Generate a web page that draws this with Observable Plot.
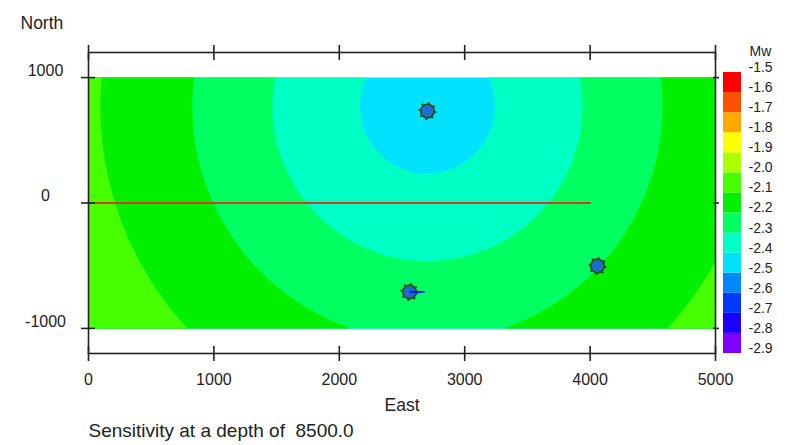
<!DOCTYPE html>
<html>
<head>
<meta charset="utf-8">
<script src="https://cdn.jsdelivr.net/npm/d3@7"></script>
<script src="https://cdn.jsdelivr.net/npm/@observablehq/plot@0.6"></script>
<style>
  html, body { margin: 0; padding: 0; background: #fff; }
  #wrap { position: relative; width: 790px; height: 445px; font-family: "Liberation Sans", Arial, sans-serif; }
  #wrap svg { position: absolute; top: 0; overflow: visible; }
</style>
</head>
<body>
<div id="wrap"></div>
<script>
// ---- data ----
const xTicks = [0, 1000, 2000, 3000, 4000, 5000];
const yTicks = [-1000, 0, 1000];
const mapExtentX = [0, 5000];
const mapExtentY = [-1000, 1000];

// sensitivity field: concentric contours around this point (metres)
const fieldCenterX = 2703;
const fieldCenterY = 773;
const contourRadius = [0, 537, 1236, 1874, 2608, 3400];
const contourValue  = [-2.46, -2.4, -2.3, -2.2, -2.1, -2.0];
const contourThresholds = [-2.5, -2.4, -2.3, -2.2, -2.1, -2.0];

// stations
const stationX = [2703, 2560, 4059];
const stationY = [733, -709, -502];

// short vector at station 2
const vecX1 = [2560], vecX2 = [2680], vecY = [-709];

// red profile line
const lineX = [0, 4000];
const lineY = [0, 0];

// legend (Mw)
const legendTicks = [-1.5, -1.6, -1.7, -1.8, -1.9, -2.0, -2.1, -2.2, -2.3, -2.4, -2.5, -2.6, -2.7, -2.8, -2.9];
const bandLower = [-2.9, -2.8, -2.7, -2.6, -2.5, -2.4, -2.3, -2.2, -2.1, -2.0, -1.9, -1.8, -1.7, -1.6];
const bandUpper = [-2.8, -2.7, -2.6, -2.5, -2.4, -2.3, -2.2, -2.1, -2.0, -1.9, -1.8, -1.7, -1.6, -1.5];
const bandColors = ["#8000ff", "#1a00ff", "#0038ff", "#0088ff", "#00e2ff", "#00ffc4", "#00ff60",
                    "#00f000", "#46ff00", "#aaff00", "#ffff00", "#ffa800", "#ff5200", "#ff0000"];

// ---- helpers ----
function fieldValue(x, y) {
  const d = Math.hypot(x - fieldCenterX, y - fieldCenterY);
  for (let i = 1; i < contourRadius.length; i++) {
    if (d <= contourRadius[i]) {
      const t = (d - contourRadius[i - 1]) / (contourRadius[i] - contourRadius[i - 1]);
      return contourValue[i - 1] + t * (contourValue[i] - contourValue[i - 1]);
    }
  }
  return contourValue[contourValue.length - 1];
}

const colorScale = {type: "threshold", domain: bandLower.slice(1), range: bandColors};
const stations = stationX.map((x, i) => ({x, y: stationY[i]}));
const vectors = vecX1.map((x1, i) => ({x1, x2: vecX2[i], y: vecY[i]}));
const redLine = lineX.map((x, i) => ({x, y: lineY[i]}));
const bands = bandLower.map((lo, i) => ({lo, hi: bandUpper[i]}));
const ink = "#222";
const fmt = d => String(d);

const main = Plot.plot({
  width: 790, height: 445,
  marginLeft: 88, marginRight: 75, marginTop: 52, marginBottom: 92,
  style: {fontFamily: "Liberation Sans, Arial, sans-serif", background: "transparent"},
  x: {domain: [0, 5000], label: null},
  y: {domain: [-1200, 1200], label: null},
  color: colorScale,
  marks: [
    Plot.contour({
      x1: mapExtentX[0], x2: mapExtentX[1], y1: mapExtentY[0], y2: mapExtentY[1],
      fill: fieldValue, thresholds: contourThresholds, pixelSize: 1, stroke: "none"
    }),
    Plot.line(redLine, {x: "x", y: "y", stroke: "#d33b24", strokeWidth: 2}),
    Plot.frame({stroke: ink, strokeWidth: 1.6}),
    // tick marks crossing the frame
    Plot.axisX({ticks: xTicks, anchor: "bottom", label: null, tickSize: 15, dy: -7, tickFormat: () => "", stroke: ink, strokeWidth: 1.6}),
    Plot.axisX({ticks: xTicks, anchor: "top", label: null, tickSize: 15, dy: 7, tickFormat: () => "", stroke: ink, strokeWidth: 1.6}),
    Plot.axisY({ticks: yTicks, anchor: "left", label: null, tickSize: 14, dx: 7, tickFormat: () => "", stroke: ink, strokeWidth: 1.6}),
    Plot.axisY({ticks: yTicks, anchor: "right", label: null, tickSize: 6, dx: -3, tickFormat: () => "", stroke: ink, strokeWidth: 1.6}),
    // tick labels
    Plot.axisX({ticks: xTicks, anchor: "bottom", label: null, tickSize: 0, tickPadding: 20, tickFormat: fmt, fontSize: 16, fill: ink}),
    Plot.axisY({ticks: yTicks, anchor: "left", label: null, tickSize: 0, tickPadding: 43, textAnchor: "middle", dy: -7, tickFormat: fmt, fontSize: 16, fill: ink}),
    // stations
    Plot.dot(stations, {x: "x", y: "y", r: 8, stroke: "#0d4f12", strokeWidth: 2, strokeDasharray: "2 4.28"}),
    Plot.dot(stations, {x: "x", y: "y", r: 6.8, fill: "#1f6cd0", stroke: "#0d4f12", strokeWidth: 1.6}),
    Plot.link(vectors, {x1: "x1", x2: "x2", y1: "y", y2: "y", stroke: "#1414ff", strokeWidth: 2}),
    // titles
    Plot.text(["East"], {frameAnchor: "bottom", dy: 57, fontSize: 17.5, fill: ink}),
    Plot.text(["North"], {frameAnchor: "top-left", textAnchor: "start", dx: -68, dy: -36, fontSize: 17.5, fill: ink}),
    Plot.text(["Sensitivity at a depth of  8500.0"], {frameAnchor: "bottom-left", textAnchor: "start", dy: 83, fontSize: 19, fill: ink})
  ]
});
main.style.left = "0px";

const legend = Plot.plot({
  width: 90, height: 445,
  marginLeft: 23, marginRight: 49, marginTop: 72, marginBottom: 92,
  style: {fontFamily: "Liberation Sans, Arial, sans-serif", background: "transparent"},
  y: {domain: [-2.9, -1.5], label: null},
  color: colorScale,
  marks: [
    Plot.rect(bands, {y1: "lo", y2: "hi", fill: "lo"}),
    Plot.axisY({ticks: legendTicks, anchor: "right", label: null, tickSize: 0, tickPadding: 7, dy: -5, tickFormat: d => d.toFixed(1), fontSize: 14, fill: ink}),
    Plot.text(["Mw"], {frameAnchor: "top-right", textAnchor: "start", dx: 8, dy: -26, fontSize: 14, fill: ink})
  ]
});
legend.style.left = "700px";

document.getElementById("wrap").append(main, legend);
</script>
</body>
</html>
